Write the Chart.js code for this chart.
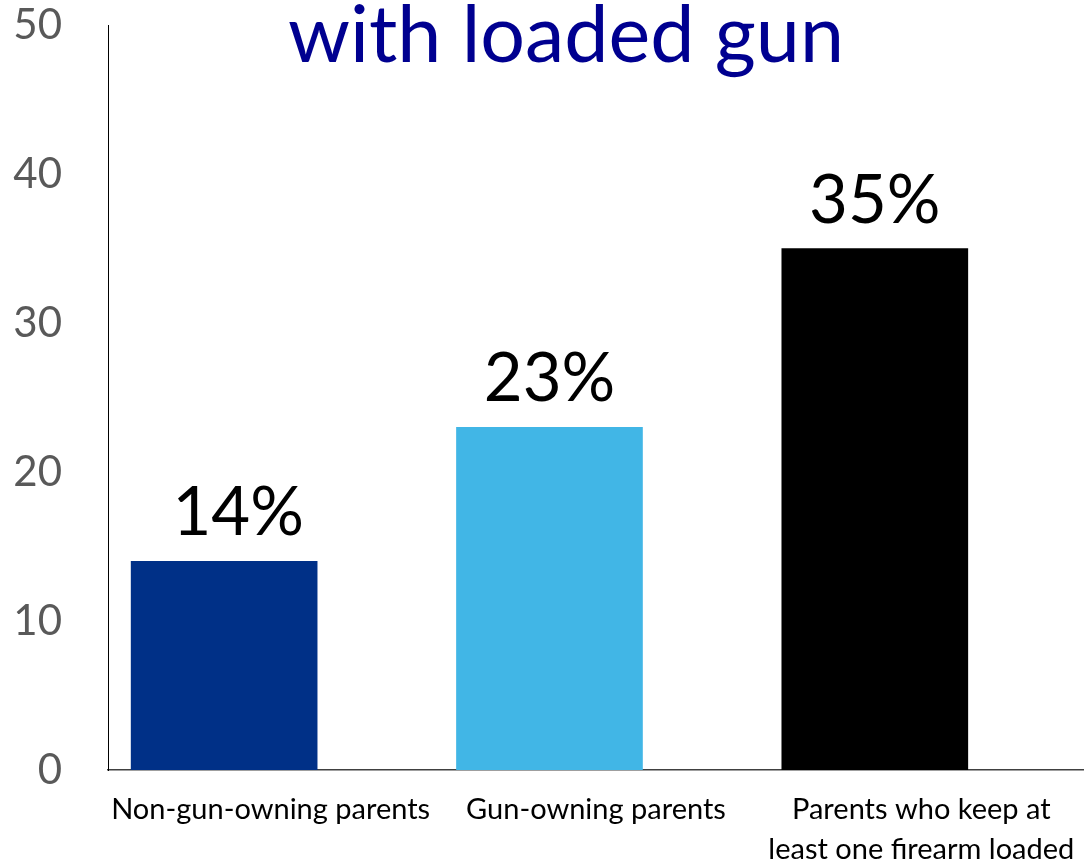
<!DOCTYPE html>
<html>
<head>
<meta charset="utf-8">
<script src="https://cdn.jsdelivr.net/npm/chart.js@4/dist/chart.umd.min.js"></script>
<style>
  html, body { margin: 0; padding: 0; background: #fff; }
  canvas { display: block; }
</style>
</head>
<body>
<canvas id="c" width="1084" height="865"></canvas>
<script>
// chart data
const categories = ['Non-gun-owning parents', 'Gun-owning parents', ['Parents who keep at', 'least one firearm loaded']];
const shares = [14, 23, 35];
const barColors = ['#003087', '#41B6E6', '#000000'];
const yTicks = [0, 10, 20, 30, 40, 50];
const titleText = 'with loaded gun';

const FONT = 'Lato, "Open Sans", sans-serif';

// title drawn over the plot, like the original slide
const titlePlugin = {
    id: 'slideTitle',
    afterDraw(chart) {
        const ctx = chart.ctx;
        ctx.save();
        ctx.font = '79px ' + FONT;
        ctx.fillStyle = '#000090';
        ctx.textAlign = 'center';
        ctx.textBaseline = 'alphabetic';
        ctx.fillText(titleText, 566, 62);
        ctx.restore();
    }
};

// percent labels above the bars (first one was nudged right in the original)
const valueLabels = {
    id: 'valueLabels',
    afterDatasetsDraw(chart) {
        const ctx = chart.ctx;
        const meta = chart.getDatasetMeta(0);
        const nudge = [14, 0, 0];
        ctx.save();
        ctx.font = '67px ' + FONT;
        ctx.fillStyle = '#000';
        ctx.textAlign = 'center';
        ctx.textBaseline = 'alphabetic';
        meta.data.forEach((bar, i) => {
            ctx.fillText(shares[i] + '%', bar.x + nudge[i], bar.y - 26);
        });
        ctx.restore();
    }
};

new Chart(document.getElementById('c'), {
    type: 'bar',
    data: {
        labels: categories,
        datasets: [{
            data: shares.map((v, i) => ({ x: i, y: v })),
            backgroundColor: barColors,
            xAxisID: 'xb',
            barThickness: 186
        }]
    },
    options: {
        responsive: false,
        animation: false,
        devicePixelRatio: 1,
        layout: { padding: { top: 25, left: 0, right: 0, bottom: 0 } },
        plugins: {
            legend: { display: false },
            tooltip: { enabled: false }
        },
        scales: {
            x: {
                type: 'category',
                offset: true,
                grid: { display: false, drawTicks: false },
                border: { display: true, color: '#404040', width: 1.5 },
                ticks: {
                    color: '#000',
                    font: { family: FONT, size: 29, lineHeight: 1.38 },
                    padding: 20,
                    maxRotation: 0,
                    autoSkip: false
                },
                afterFit(scale) {
                    scale.height = 95;
                    scale.paddingLeft = 0;
                    scale.paddingRight = 0;
                }
            },
            // bars sit left of the label centres, as in the source chart
            xb: {
                type: 'linear',
                display: false,
                offset: false,
                min: -0.357,
                max: 2.643
            },
            y: {
                min: 0,
                max: 50,
                afterBuildTicks(scale) { scale.ticks = yTicks.map(v => ({ value: v })); },
                grid: { display: false, drawTicks: false },
                border: { display: true, color: '#000', width: 1 },
                ticks: {
                    color: '#595959',
                    font: { family: FONT, size: 42 },
                    padding: 46
                },
                afterFit(scale) {
                    scale.width = 108;
                    scale.paddingTop = 0;
                    scale.paddingBottom = 0;
                }
            }
        }
    },
    plugins: [titlePlugin, valueLabels]
});
</script>
</body>
</html>
